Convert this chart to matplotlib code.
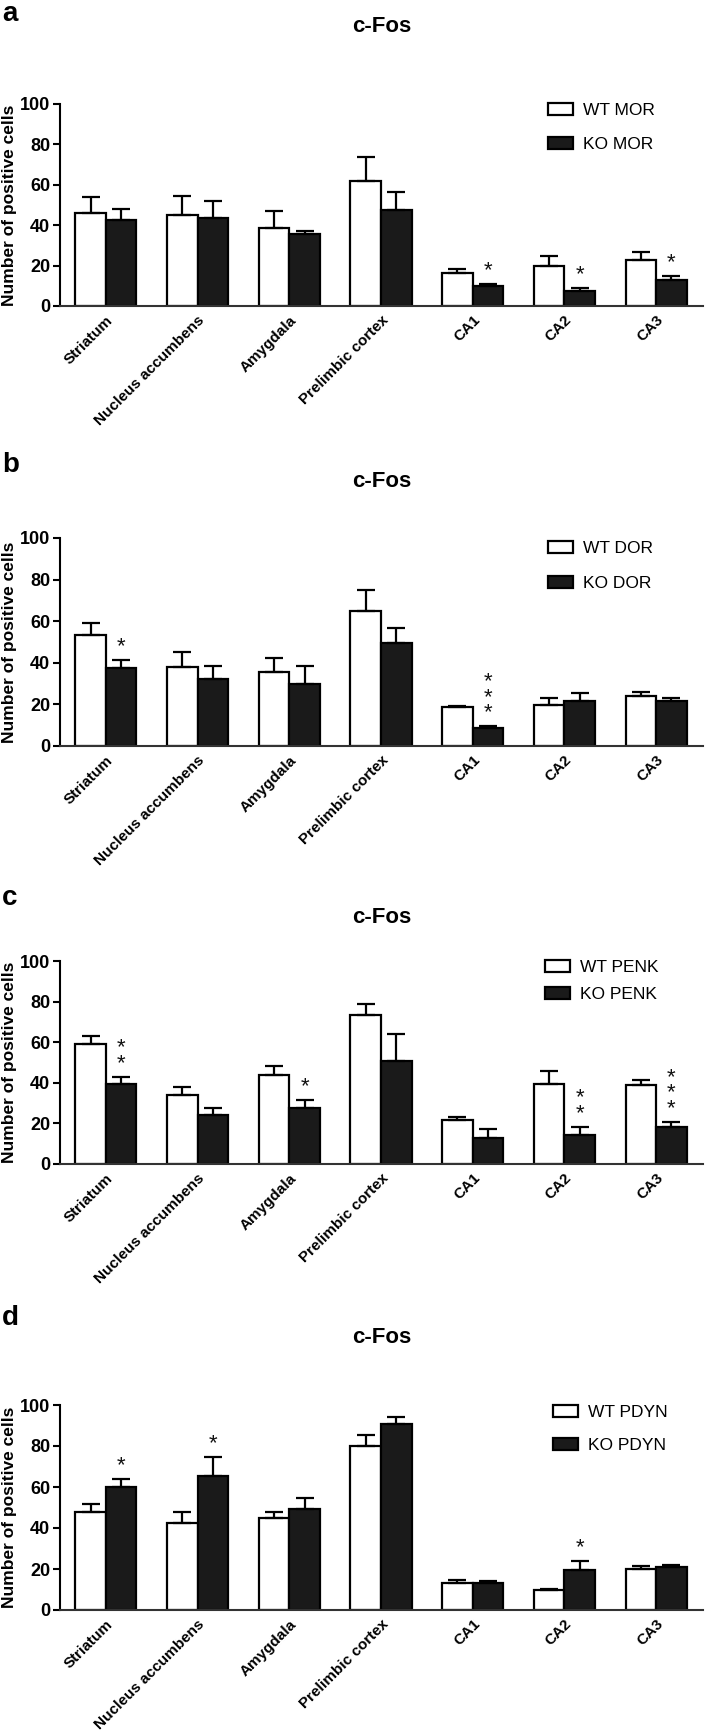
import matplotlib
matplotlib.use('Agg')
import matplotlib.pyplot as plt
import matplotlib.transforms as mtransforms
import matplotlib.font_manager as fm
from matplotlib.patches import Patch
import numpy as np

# --- data ---
regions = ['Striatum', 'Nucleus accumbens', 'Amygdala', 'Prelimbic cortex', 'CA1', 'CA2', 'CA3']
panel_letters = ['a', 'b', 'c', 'd']
genes = ['MOR', 'DOR', 'PENK', 'PDYN']

wt_mor = [46.0, 45.0, 38.5, 61.7, 16.5, 20.0, 22.6]
wt_mor_sem = [8.2, 9.7, 8.6, 12.2, 2.0, 4.8, 4.0]
ko_mor = [42.6, 43.8, 35.5, 47.6, 10.0, 7.4, 12.9]
ko_mor_sem = [5.4, 8.4, 1.7, 8.8, 1.0, 1.6, 1.8]
stars_mor = [0, 0, 0, 0, 1, 1, 1]

wt_dor = [53.6, 37.9, 35.4, 65.1, 18.6, 19.7, 24.0]
wt_dor_sem = [5.4, 7.5, 6.7, 9.8, 0.6, 3.2, 2.1]
ko_dor = [37.6, 32.2, 29.6, 49.4, 8.8, 21.4, 21.6]
ko_dor_sem = [3.7, 6.2, 8.8, 7.2, 0.8, 4.2, 1.4]
stars_dor = [1, 0, 0, 0, 3, 0, 0]

wt_penk = [59.2, 33.8, 43.8, 73.3, 21.6, 39.3, 38.9]
wt_penk_sem = [4.1, 3.9, 4.6, 5.7, 1.4, 6.4, 2.4]
ko_penk = [39.2, 23.9, 27.7, 50.7, 13.0, 14.1, 18.4]
ko_penk_sem = [3.8, 3.8, 3.8, 13.1, 4.2, 4.3, 2.4]
stars_penk = [2, 0, 1, 0, 0, 2, 3]

wt_pdyn = [47.7, 42.5, 44.8, 79.8, 13.4, 9.8, 20.2]
wt_pdyn_sem = [3.9, 5.5, 2.9, 5.4, 1.3, 0.6, 1.1]
ko_pdyn = [59.9, 65.6, 49.2, 90.7, 13.2, 19.4, 21.2]
ko_pdyn_sem = [3.9, 9.0, 5.4, 3.4, 1.1, 4.5, 0.8]
stars_pdyn = [1, 1, 0, 0, 0, 1, 0]

panels = [
    (wt_mor, wt_mor_sem, ko_mor, ko_mor_sem, stars_mor),
    (wt_dor, wt_dor_sem, ko_dor, ko_dor_sem, stars_dor),
    (wt_penk, wt_penk_sem, ko_penk, ko_penk_sem, stars_penk),
    (wt_pdyn, wt_pdyn_sem, ko_pdyn, ko_pdyn_sem, stars_pdyn),
]

# --- layout (pixels, origin top-left) ---
W, H = 724, 1736
AX_L, AX_R = 60, 703
axes_px = [(104, 306), (538, 746), (961, 1164), (1405, 1610)]
title_px = [32, 487, 923, 1343]
letter_px = [21, 472, 905, 1325]
legend_px = [(548, 103, 1.08), (548, 541, 1.14), (545, 960, 0.66), (553, 1405, 1.02)]

avail = {f.name for f in fm.fontManager.ttflist}
NARROW = 'Liberation Sans Narrow' if 'Liberation Sans Narrow' in avail else 'Liberation Sans'
plt.rcParams['font.family'] = ['Liberation Sans', 'DejaVu Sans']

fig = plt.figure(figsize=(W / 100, H / 100), dpi=100)

x = np.arange(len(regions))
bw = 0.333

for i, (wt, wt_sem, ko, ko_sem, stars) in enumerate(panels):
    top, bot = axes_px[i]
    ax = fig.add_axes([AX_L / W, 1 - bot / H, (AX_R - AX_L) / W, (bot - top) / H])

    ax.bar(x - bw / 2, wt, bw, color='white', edgecolor='black', linewidth=1.6, zorder=2)
    ax.bar(x + bw / 2, ko, bw, color='#1a1a1a', edgecolor='black', linewidth=1.6, zorder=2)
    ax.errorbar(x - bw / 2, wt, yerr=[np.zeros(len(wt)), wt_sem], fmt='none', ecolor='black',
                elinewidth=1.6, capsize=6.5, capthick=1.6, zorder=3)
    ax.errorbar(x + bw / 2, ko, yerr=[np.zeros(len(ko)), ko_sem], fmt='none', ecolor='black',
                elinewidth=1.6, capsize=6.5, capthick=1.6, zorder=3)

    # significance stars above KO bars (stacked vertically)
    for j, n in enumerate(stars):
        if n:
            ax.annotate('\n'.join(['*'] * n), xy=(x[j] + bw / 2, ko[j] + ko_sem[j]),
                        xytext=(0, 2), textcoords='offset points', ha='center',
                        va='bottom', fontsize=16, linespacing=0.65, color='#111111')

    ax.set_xlim(-0.5, 6.51)
    ax.set_ylim(0, 100)
    ax.set_yticks([0, 20, 40, 60, 80, 100])
    ax.set_yticklabels(['0', '20', '40', '60', '80', '100'], fontfamily=NARROW,
                       fontweight='bold', fontsize=13)
    ax.set_xticks(x)
    ax.set_xticklabels(regions, rotation=45, ha='right', va='top', rotation_mode='anchor',
                       fontweight='bold', fontsize=11)
    shift = mtransforms.ScaledTranslation(4 / 100, 0, fig.dpi_scale_trans)
    for lab in ax.get_xticklabels():
        lab.set_transform(lab.get_transform() + shift)
    ax.tick_params(axis='x', length=0, pad=5)
    ax.tick_params(axis='y', length=5, width=1.5, pad=2)

    for s in ['top', 'right']:
        ax.spines[s].set_visible(False)
    ax.spines['left'].set_linewidth(1.5)
    ax.spines['bottom'].set_linewidth(1.5)
    ax.spines['bottom'].set_color('#333333')

    ax.set_ylabel('Number of positive cells', fontweight='bold', fontsize=12.5)
    ax.yaxis.set_label_coords((17 - AX_L) / (AX_R - AX_L), 0.5)

    lx, ly, lsp = legend_px[i]
    handles = [Patch(facecolor='white', edgecolor='black', linewidth=1.6),
               Patch(facecolor='#1a1a1a', edgecolor='black', linewidth=1.6)]
    ax.legend(handles, [f'WT {genes[i]}', f'KO {genes[i]}'], loc='upper left',
              bbox_to_anchor=((lx - AX_L) / (AX_R - AX_L), (bot - ly) / (bot - top)),
              frameon=False, borderpad=0, borderaxespad=0, handlelength=1.44,
              handleheight=0.72, handletextpad=0.6, labelspacing=lsp,
              prop={'family': NARROW, 'size': 12.5})

    fig.text((AX_L + AX_R) / 2 / W, 1 - title_px[i] / H, 'c-Fos', ha='center', va='baseline',
             fontfamily=NARROW, fontweight='bold', fontsize=16)
    fig.text(2 / W, 1 - letter_px[i] / H, panel_letters[i], ha='left', va='baseline',
             fontweight='bold', fontsize=20)

fig.savefig('out.png', dpi=100)
